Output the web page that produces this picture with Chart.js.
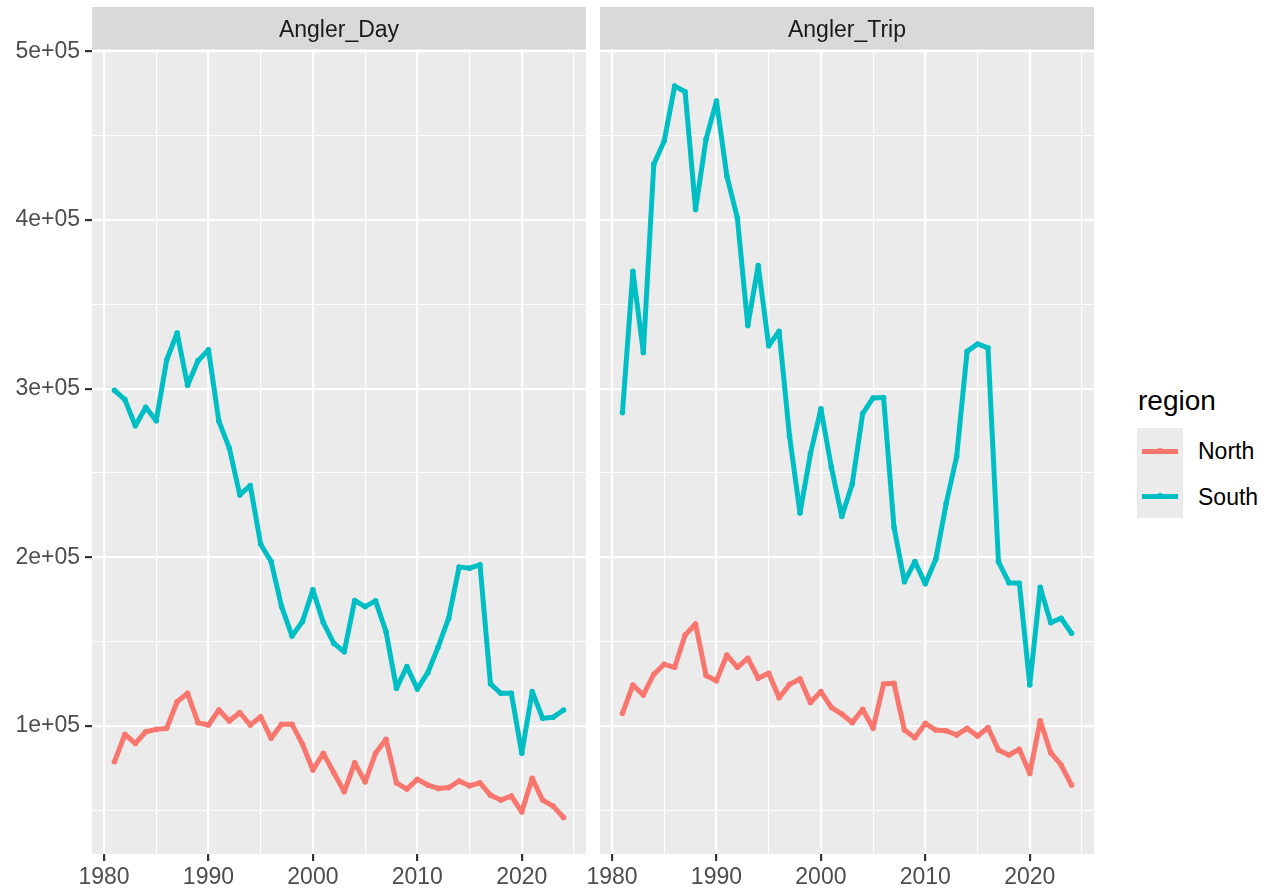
<!DOCTYPE html>
<html>
<head>
<meta charset="utf-8">
<script src="https://cdn.jsdelivr.net/npm/chart.js@4.4.1/dist/chart.umd.min.js"></script>
<style>
  html, body { margin:0; padding:0; background:#ffffff; width:1273px; height:895px; overflow:hidden;
    font-family:"Liberation Sans", Arial, sans-serif; }
  canvas { position:absolute; top:0; }
  #c1 { left:0; }
  #c2 { left:570px; }
  .lg { position:absolute; white-space:nowrap; }
  #lgTitle { left:1138px; top:384px; font-size:28px; line-height:34px; color:#000; }
  #lgBox { left:1137px; top:428px; width:46px; height:90px; background:#EBEBEB; }
  .key { position:absolute; left:1142px; width:36px; height:5px; }
  .dot { position:absolute; left:1157px; width:6px; height:6px; border-radius:50%; }
  .lab { position:absolute; left:1198px; font-size:23px; line-height:28px; color:#000; }
</style>
</head>
<body>
<canvas id="c1" width="592" height="895"></canvas>
<canvas id="c2" width="532" height="895"></canvas>

<div class="lg" id="lgTitle">region</div>
<div class="lg" id="lgBox"></div>
<div class="key" style="top:448.5px;background:#F8766D"></div>
<div class="dot" style="top:448px;background:#F8766D"></div>
<div class="lab" style="top:437px">North</div>
<div class="key" style="top:493.5px;background:#00BFC4"></div>
<div class="dot" style="top:493px;background:#00BFC4"></div>
<div class="lab" style="top:483px">South</div>

<script>
// ---- data ----
const years = [1981,1982,1983,1984,1985,1986,1987,1988,1989,1990,
               1991,1992,1993,1994,1995,1996,1997,1998,1999,2000,
               2001,2002,2003,2004,2005,2006,2007,2008,2009,2010,
               2011,2012,2013,2014,2015,2016,2017,2018,2019,2020,
               2021,2022,2023,2024];

const dayNorth = [78800,95000,89700,96600,98000,98600,114400,119400,102000,100600,
                  109500,103000,108000,100600,105500,92700,101000,101000,89300,73900,
                  83800,72300,61000,78200,66900,83800,92100,66300,62600,68400,
                  65000,63000,63500,67400,64600,66300,59000,56100,58500,49100,
                  69000,56100,52500,45800];

const daySouth = [299000,293500,278000,289000,281000,317000,333000,302000,316600,323000,
                  280600,264800,237000,242600,207800,197500,170800,153400,161900,180700,
                  161300,149000,144000,174400,170800,174200,156000,122400,135200,122000,
                  131600,147000,163900,194200,193600,195600,125000,119400,119400,83800,
                  120400,104600,105200,109500];

const tripNorth = [107500,124300,118400,130700,136600,134800,154000,160500,129900,126900,
                   142100,134800,140200,128300,131300,116800,124700,127900,114000,120400,
                   111100,107100,102000,109900,98600,124900,125300,97600,93000,101600,
                   97600,97200,94700,98600,94100,99000,85800,82800,86200,71900,
                   103100,84200,76900,65000];

const tripSouth = [285800,369600,321500,433000,446800,479400,476000,406200,447800,470500,
                   426000,401300,337400,373000,325500,334000,271700,226300,261400,288000,
                   253500,224200,243400,285200,294500,294800,217800,185600,197500,184300,
                   198900,232100,259800,322100,326500,324200,197500,185000,184600,124300,
                   182300,161300,163900,155000];

const panels = ['Angler_Day', 'Angler_Trip'];
const regions = ['North', 'South'];

const xBreaks = [1980, 1990, 2000, 2010, 2020];
const xLabels = ['1980', '1990', '2000', '2010', '2020'];
const xMinor  = [1985, 1995, 2005, 2015, 2025];
const yBreaks = [100000, 200000, 300000, 400000, 500000];
const yLabels = ['1e+05', '2e+05', '3e+05', '4e+05', '5e+05'];
const yMinor  = [50000, 150000, 250000, 350000, 450000];

// ---- ggplot-like 5% expansion of the shared scales ----
const allVals = [].concat(dayNorth, daySouth, tripNorth, tripSouth);
const yLo = Math.min(...allVals), yHi = Math.max(...allVals);
const yPad = (yHi - yLo) * 0.05;
const xLo = Math.min(...years), xHi = Math.max(...years);
const xPad = (xHi - xLo) * 0.05;

const COLORS = { North: '#F8766D', South: '#00BFC4' };
const FONT = '"Liberation Sans", Arial, sans-serif';

const panelPlugin = {
  id: 'panel',
  beforeDraw(chart, args, opts) {
    const ctx = chart.ctx, a = chart.chartArea;
    ctx.save();
    ctx.fillStyle = '#EBEBEB';
    ctx.fillRect(a.left, a.top, a.right - a.left, a.bottom - a.top);
    ctx.fillStyle = '#D9D9D9';
    ctx.fillRect(a.left, 7, a.right - a.left, a.top - 7);
    ctx.fillStyle = '#1A1A1A';
    ctx.font = '23px ' + FONT;
    ctx.textAlign = 'center';
    ctx.textBaseline = 'middle';
    ctx.fillText(opts.label, (a.left + a.right) / 2, (7 + a.top) / 2 + 2);
    ctx.restore();
  }
};

function isIn(arr, c) { return c && c.tick && arr.includes(c.tick.value); }

function makeDataset(region, values, order) {
  return {
    label: region,
    data: years.map((yr, i) => ({ x: yr, y: values[i] })),
    borderColor: COLORS[region],
    backgroundColor: COLORS[region],
    borderWidth: 5,
    borderJoinStyle: 'round',
    borderCapStyle: 'butt',
    pointRadius: 2.8,
    pointBorderWidth: 0,
    pointHoverRadius: 2.8,
    tension: 0,
    order: order
  };
}

function makeChart(id, panelIdx, north, south, showY, padLeft, padRight) {
  return new Chart(document.getElementById(id), {
    type: 'line',
    data: { datasets: [ makeDataset(regions[1], south, 0), makeDataset(regions[0], north, 1) ] },
    options: {
      responsive: false,
      animation: false,
      devicePixelRatio: 1,
      layout: { padding: { top: 49.5, left: padLeft, right: padRight, bottom: 0 } },
      plugins: { legend: { display: false }, tooltip: { enabled: false }, panel: { label: panels[panelIdx] } },
      scales: {
        x: {
          type: 'linear',
          min: xLo - xPad,
          max: xHi + xPad,
          afterBuildTicks: s => { s.ticks = xBreaks.concat(xMinor).sort((a, b) => a - b).map(v => ({ value: v })); },
          afterFit: s => { s.height = 41; },
          border: { display: false },
          grid: {
            color: '#FFFFFF',
            lineWidth: c => isIn(xBreaks, c) ? 2.2 : 1.1,
            drawTicks: true,
            tickLength: 7,
            tickWidth: 2.2,
            tickColor: c => isIn(xBreaks, c) ? '#333333' : 'rgba(0,0,0,0)'
          },
          ticks: {
            autoSkip: false, maxRotation: 0, minRotation: 0, padding: 3,
            color: '#4D4D4D', font: { family: FONT, size: 23 },
            callback: v => { const i = xBreaks.indexOf(v); return i >= 0 ? xLabels[i] : ''; }
          }
        },
        y: {
          type: 'linear',
          min: yLo - yPad,
          max: yHi + yPad,
          afterBuildTicks: s => { s.ticks = yBreaks.concat(yMinor).sort((a, b) => a - b).map(v => ({ value: v })); },
          afterFit: s => { s.width = showY ? 92 : 0; },
          border: { display: false },
          grid: {
            color: '#FFFFFF',
            lineWidth: c => isIn(yBreaks, c) ? 2.2 : 1.1,
            drawTicks: showY,
            tickLength: 7,
            tickWidth: 2.2,
            tickColor: c => isIn(yBreaks, c) ? '#333333' : 'rgba(0,0,0,0)'
          },
          ticks: {
            display: showY,
            autoSkip: false, padding: 5,
            color: '#4D4D4D', font: { family: FONT, size: 23 },
            callback: v => { const i = yBreaks.indexOf(v); return i >= 0 ? yLabels[i] : ''; }
          }
        }
      }
    },
    plugins: [panelPlugin]
  });
}

makeChart('c1', 0, dayNorth, daySouth, true, 0, 6);
makeChart('c2', 1, tripNorth, tripSouth, false, 30, 8);
</script>
</body>
</html>
